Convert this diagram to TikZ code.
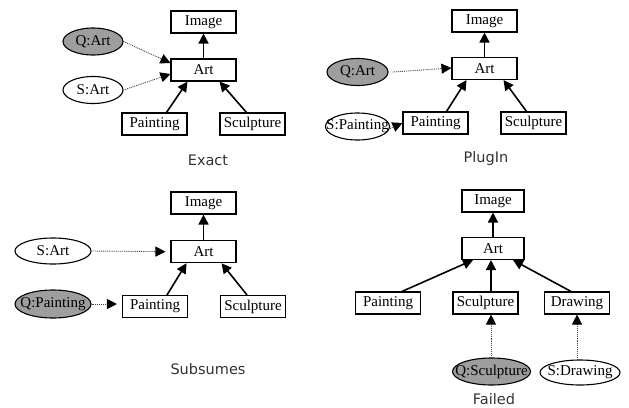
\documentclass[tikz,border=0pt]{standalone}
\usepackage{fontspec}
\setmainfont{Liberation Serif}
\newfontfamily\capfont{DejaVu Sans}
\usetikzlibrary{arrows.meta,shapes.geometric}
\tikzset{
  cls/.style={draw, line width=1.1pt, minimum width=65pt, minimum height=22pt, inner sep=0pt, font=\fontsize{15}{15}\selectfont},
  qry/.style={draw, ellipse, line width=1.1pt, fill=black!38, minimum height=27pt, inner sep=0pt, font=\fontsize{15}{15}\selectfont},
  srv/.style={draw, ellipse, line width=1.1pt, fill=white, minimum height=27pt, inner sep=0pt, font=\fontsize{15}{15}\selectfont},
  isa/.style={line width=1.6pt, -{Triangle[length=10pt,width=10pt]}},
  match/.style={line width=0.9pt, densely dotted, draw=black!75, -{Triangle[length=10pt,width=10pt,color=black]}},
  caption/.style={font=\capfont\fontsize{14.5}{15}\selectfont, text=black!80}
}
\begin{document}
\begin{tikzpicture}[x=1pt,y=-1pt]
\useasboundingbox (0,0) rectangle (629,407);
% ---------- Exact ----------
\node[cls] (ei) at (203.5,22) {Image};
\node[cls] (ea) at (203.5,70) {Art};
\node[cls] (ep) at (154.5,124) {Painting};
\node[cls] (es) at (252.5,124) {Sculpture};
\node[qry, minimum width=60pt] (eq) at (93,41.5) {\makebox[0pt]{Q:Art}};
\node[srv, minimum width=60pt] (esv) at (93,90) {\makebox[0pt]{S:Art}};
\draw[isa] (ea.north) -- (ei.south);
\draw[isa] ([xshift=12pt]ep.north) -- ([xshift=-16pt]ea.south);
\draw[isa] ([xshift=-6pt]es.north) -- ([xshift=16pt]ea.south);
\draw[match] (eq.east) -- ([yshift=7pt]ea.west);
\draw[match] (esv.east) -- ([yshift=-4pt]ea.west);
\node[caption] (ecap) at (208,160) {Exact};
% ---------- PlugIn ----------
\node[cls] (pi) at (484.5,21) {Image};
\node[cls] (pa) at (484.5,68.5) {Art};
\node[cls] (pp) at (435.5,123) {Painting};
\node[cls] (ps) at (533.5,123) {Sculpture};
\node[qry, minimum width=61pt] (pq) at (357.5,72) {\makebox[0pt]{Q:Art}};
\node[srv, minimum width=64pt] (psv) at (357.5,126.5) {\makebox[0pt]{S:Painting}};
\draw[isa] (pa.north) -- (pi.south);
\draw[isa] ([xshift=11pt]pp.north) -- ([xshift=-18pt]pa.south);
\draw[isa] ([xshift=-7pt]ps.north) -- ([xshift=19pt]pa.south);
\draw[match] ([xshift=4pt]pq.east) -- ([yshift=0.5pt]pa.west);
\draw[match] ([yshift=-2pt]psv.east) -- (pp.west);
\node[caption] (pcap) at (486,158) {PlugIn};
% ---------- Subsumes ----------
\node[cls] (si) at (203.5,203) {Image};
\node[cls] (sa) at (203.5,251.7) {Art};
\node[cls] (sp) at (155,306.5) {Painting};
\node[cls] (ss) at (253,306.5) {Sculpture};
\node[srv, minimum width=76pt, minimum height=26pt] (ssv) at (53,251) {\makebox[0pt]{S:Art}};
\node[qry, minimum width=76pt, minimum height=28pt] (sq) at (53,304) {\makebox[0pt]{Q:Painting}};
\draw[isa] (sa.north) -- (si.south);
\draw[isa] ([xshift=12pt]sp.north) -- ([xshift=-17pt]sa.south);
\draw[isa] ([xshift=-6pt]ss.north) -- ([xshift=18pt]sa.south);
\draw[match, shorten >=5pt] (ssv.east) -- (sa.west);
\draw[match, shorten >=5pt] (sq.east) -- (sp.west |- sq.east);
\node[caption] (scap) at (208,369) {Subsumes};
% ---------- Failed ----------
\node[cls, minimum width=62pt] (fi) at (493,201) {Image};
\node[cls, minimum width=62pt] (fa) at (493,248.5) {Art};
\node[cls] (fp) at (388,303) {Painting};
\node[cls] (fs) at (485.5,303) {Sculpture};
\node[cls] (fd) at (577,303) {Drawing};
\node[qry, minimum width=78pt] (fq) at (491.5,371.5) {\makebox[0pt]{Q:Sculpture}};
\node[srv, minimum width=80pt, minimum height=25pt] (fsv) at (580,372.5) {\makebox[0pt]{S:Drawing}};
\draw[isa] (fa.north) -- (fi.south);
\draw[isa] ([xshift=14pt]fp.north) -- ([xshift=-20pt]fa.south);
\draw[isa] ([xshift=5.5pt]fs.north) -- ([xshift=-2pt]fa.south);
\draw[isa] ([xshift=-6pt]fd.north) -- ([xshift=20pt]fa.south);
\draw[match] ([xshift=-0.5pt]fq.north) -- ([xshift=5.5pt]fs.south);
\draw[match] ([xshift=-3pt]fsv.north) -- (fd.south);
\node[caption] (fcap) at (494,399) {Failed};
\end{tikzpicture}
\end{document}
